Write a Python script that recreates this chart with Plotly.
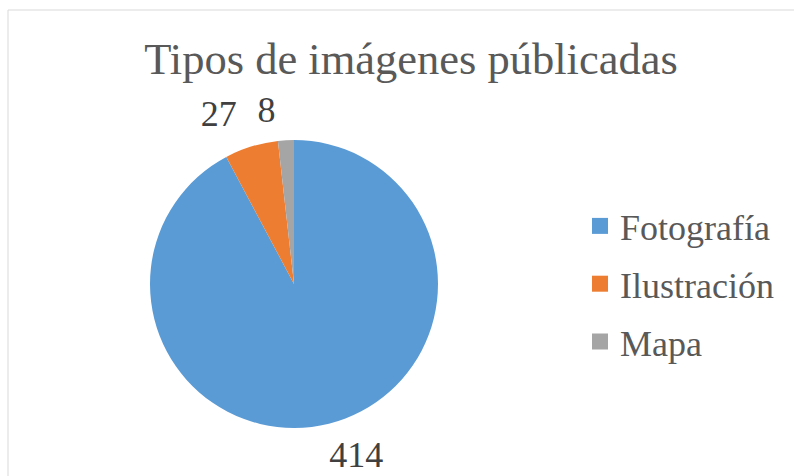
import plotly.graph_objects as go

categories = ["Fotografía", "Ilustración", "Mapa"]
values = [414, 27, 8]
colors = ["#5B9BD5", "#ED7D31", "#A5A5A5"]
title_text = "Tipos de imágenes públicadas"

W, H = 794, 476
FONT = "Liberation Serif"
CX, CY, R = 294, 192, 144  # pie centre (px from left / bottom) and radius


def domain_for(max_pull):
    half = R * (1 + max_pull)
    return dict(x=[(CX - half) / W, (CX + half) / W],
                y=[(CY - half) / H, (CY + half) / H])


common = dict(labels=categories, values=values, sort=False,
              direction="clockwise")
label_font = dict(family=FONT, size=36, color="#404040")
clear = ["rgba(0,0,0,0)"] * len(values)

fig = go.Figure()

# visible slices
fig.add_trace(go.Pie(
    **common,
    rotation=0,
    marker=dict(colors=colors, line=dict(width=0)),
    textinfo="none",
    domain=domain_for(0),
    hoverinfo="label+value",
    showlegend=False,
))

# transparent overlays that only carry the value labels (one label each)
label_setups = [
    # (index, pull, rotation)
    (0, 0.07, 4.6),
    (1, 0.105, 0),
    (2, 0.07, 0),
]
for idx, pull, rot in label_setups:
    pulls = [0] * len(values)
    pulls[idx] = pull
    pos = ["none"] * len(values)
    pos[idx] = "outside"
    fig.add_trace(go.Pie(
        **common,
        rotation=rot,
        marker=dict(colors=clear, line=dict(width=0)),
        textinfo="value",
        textposition=pos,
        outsidetextfont=label_font,
        pull=pulls,
        domain=domain_for(pull),
        hoverinfo="skip",
        showlegend=False,
    ))

# legend entries (square swatches)
for cat, col in zip(categories, colors):
    fig.add_trace(go.Scatter(
        x=[None], y=[None], mode="markers", name=cat, legendgroup=cat,
        marker=dict(symbol="square", size=16, color=col),
        hoverinfo="skip",
    ))

fig.update_layout(
    width=W, height=H,
    margin=dict(l=0, r=0, t=0, b=0, autoexpand=False),
    paper_bgcolor="white",
    plot_bgcolor="white",
    xaxis=dict(visible=False),
    yaxis=dict(visible=False),
    font=dict(family=FONT, color="#595959"),
    title=dict(text=title_text, x=411 / W, xanchor="center",
               y=1 - 58 / H, yanchor="middle",
               font=dict(family=FONT, size=44.5, color="#595959")),
    legend=dict(x=580 / W, xanchor="left", y=1 - 284 / H, yanchor="middle",
                font=dict(family=FONT, size=36, color="#595959"),
                bgcolor="rgba(0,0,0,0)", tracegroupgap=8,
                itemsizing="trace"),
    shapes=[dict(type="rect", xref="paper", yref="paper",
                 x0=8 / W, x1=1.05, y0=-0.05, y1=1 - 10 / H,
                 line=dict(color="#D9D9D9", width=1), fillcolor="rgba(0,0,0,0)",
                 layer="below")],
)

fig.write_html("out.html", config={"displayModeBar": False},
               post_script="document.body.style.margin='0';")
